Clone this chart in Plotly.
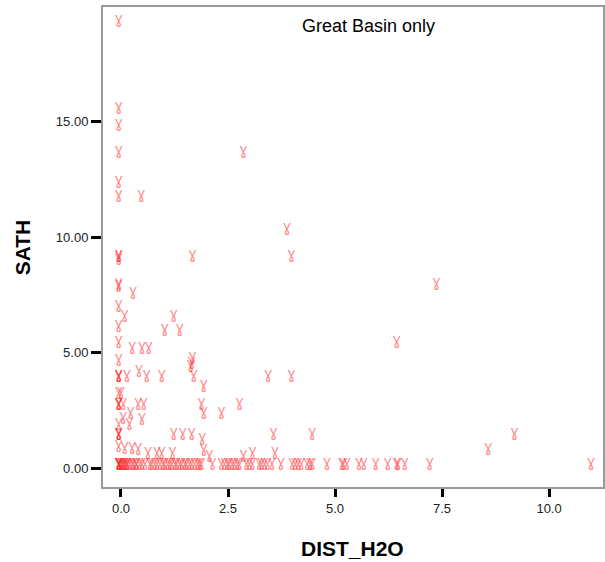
import plotly.graph_objects as go

# points (DIST_H2O, SATH)
col0_y = [19.4, 15.6, 14.9, 13.7, 12.4, 11.8, 9.2, 9.2, 9.1, 8.0, 7.9, 7.05, 6.2,
          5.5, 4.7, 4.0, 4.0, 4.0, 3.3, 2.8, 2.8, 2.8, 1.95, 1.5, 1.5, 1.5, 1.0,
          0.2, 0.2, 0.2, 0.2]

other_x = [0.47, 1.67, 2.86, 3.88, 3.98, 7.37, 6.44, 3.44, 3.98, 2.77,
           0.28, 0.09, 1.23, 1.02, 1.37, 0.26, 0.49, 0.65, 1.67, 1.65, 1.63,
           0.14, 0.42, 0.60, 0.95, 1.70, 1.93, 0.0, 0.05, 0.40, 0.53, 1.88,
           1.93, 2.35, 0.05, 0.23, 0.20, 0.49, 1.23, 1.44, 1.65, 1.90, 1.93,
           0.09, 0.26, 0.40, 0.63, 0.84, 0.95, 1.20, 2.07, 3.56, 4.47, 3.07,
           2.86, 3.60, 8.58, 9.19]
other_y = [11.8, 9.2, 13.7, 10.4, 9.2, 8.0, 5.5, 4.0, 4.0, 2.8,
           7.6, 6.6, 6.6, 6.0, 6.0, 5.25, 5.25, 5.25, 4.8, 4.6, 4.45,
           4.0, 4.25, 4.0, 4.0, 4.0, 3.6, 3.3, 2.8, 2.8, 2.8, 2.8,
           2.4, 2.4, 2.2, 2.4, 1.95, 2.15, 1.5, 1.5, 1.5, 1.3, 0.8,
           0.9, 0.9, 0.85, 0.7, 0.7, 0.7, 0.7, 0.55, 1.5, 1.5, 0.7,
           0.55, 0.7, 0.85, 1.5]

base_x = [-0.03, 0.0, 0.02, 0.05, 0.07, 0.09, 0.12, 0.14, 0.16, 0.21, 0.26,
          0.30, 0.35, 0.37, 0.44, 0.49, 0.56, 0.67, 0.72, 0.79, 0.84, 0.91,
          0.98, 1.02, 1.09, 1.14, 1.19, 1.26, 1.30, 1.37, 1.42, 1.49, 1.53,
          1.60, 1.65, 1.72, 1.79, 1.84, 1.88, 2.14, 2.35, 2.42, 2.49, 2.53,
          2.60, 2.65, 2.72, 2.77, 2.93, 3.00, 3.07, 3.23, 3.28, 3.35, 3.42,
          3.53, 3.74, 4.00, 4.07, 4.14, 4.21, 4.35, 4.42, 4.47, 4.81, 5.16,
          5.20, 5.28, 5.56, 5.67, 5.95, 6.23, 6.44, 6.47, 6.63, 7.21, 10.98]
base_y = [0.2] * len(base_x)

xs = [-0.05] * len(col0_y) + other_x + base_x
ys = col0_y + other_y + base_y

pink = 'rgba(255,40,40,0.55)'

fig = go.Figure()
# SPSS-like glyph: a V with a small loop below (latin gamma)
fig.add_trace(go.Scatter(
    x=xs, y=ys, mode='text', text=['\u0263'] * len(xs),
    textposition='middle center',
    textfont=dict(family='DejaVu Sans', size=15, color=pink),
    hoverinfo='x+y', showlegend=False
))

axis_font = dict(family='Liberation Sans, Arial', size=13, color='#222')
fig.update_xaxes(
    range=[-0.42, 11.26], tickvals=[0, 2.5, 5, 7.5, 10], tickformat='.1f',
    showgrid=False, zeroline=False, showline=True, linecolor='#999', linewidth=2,
    mirror=True, ticks='outside', ticklen=8, tickwidth=3, tickcolor='black',
    tickfont=axis_font
)
fig.update_yaxes(
    range=[-0.82, 19.96], tickvals=[0, 5, 10, 15], tickformat='.2f',
    showgrid=False, zeroline=False, showline=True, linecolor='#999', linewidth=2,
    mirror=True, ticks='outside', ticklen=10, tickwidth=3, tickcolor='black',
    tickfont=axis_font
)
fig.update_layout(
    width=605, height=562,
    margin=dict(l=103, r=0, t=7, b=75),
    plot_bgcolor='white', paper_bgcolor='white',
    annotations=[
        dict(text='Great Basin only', x=(370 - 103) / 502, y=1 - (26 - 7) / 480,
             xref='paper', yref='paper', xanchor='center', yanchor='middle', showarrow=False,
             font=dict(family='Liberation Sans, Arial', size=18, color='black')),
        dict(text='<b>SATH</b>', x=(22 - 103) / 502, y=0.5, xref='paper', yref='paper',
             xanchor='center', yanchor='middle', textangle=-90, showarrow=False,
             font=dict(family='Liberation Sans, Arial', size=21, color='black')),
        dict(text='<b>DIST_H2O</b>', x=(353 - 103) / 502, y=(487 - 548) / 480,
             xref='paper', yref='paper', xanchor='center', yanchor='middle', showarrow=False,
             font=dict(family='Liberation Sans, Arial', size=21, color='black')),
    ]
)

fig.write_html("out.html", config={'displayModeBar': False},
               post_script="document.body.style.margin='0';")
